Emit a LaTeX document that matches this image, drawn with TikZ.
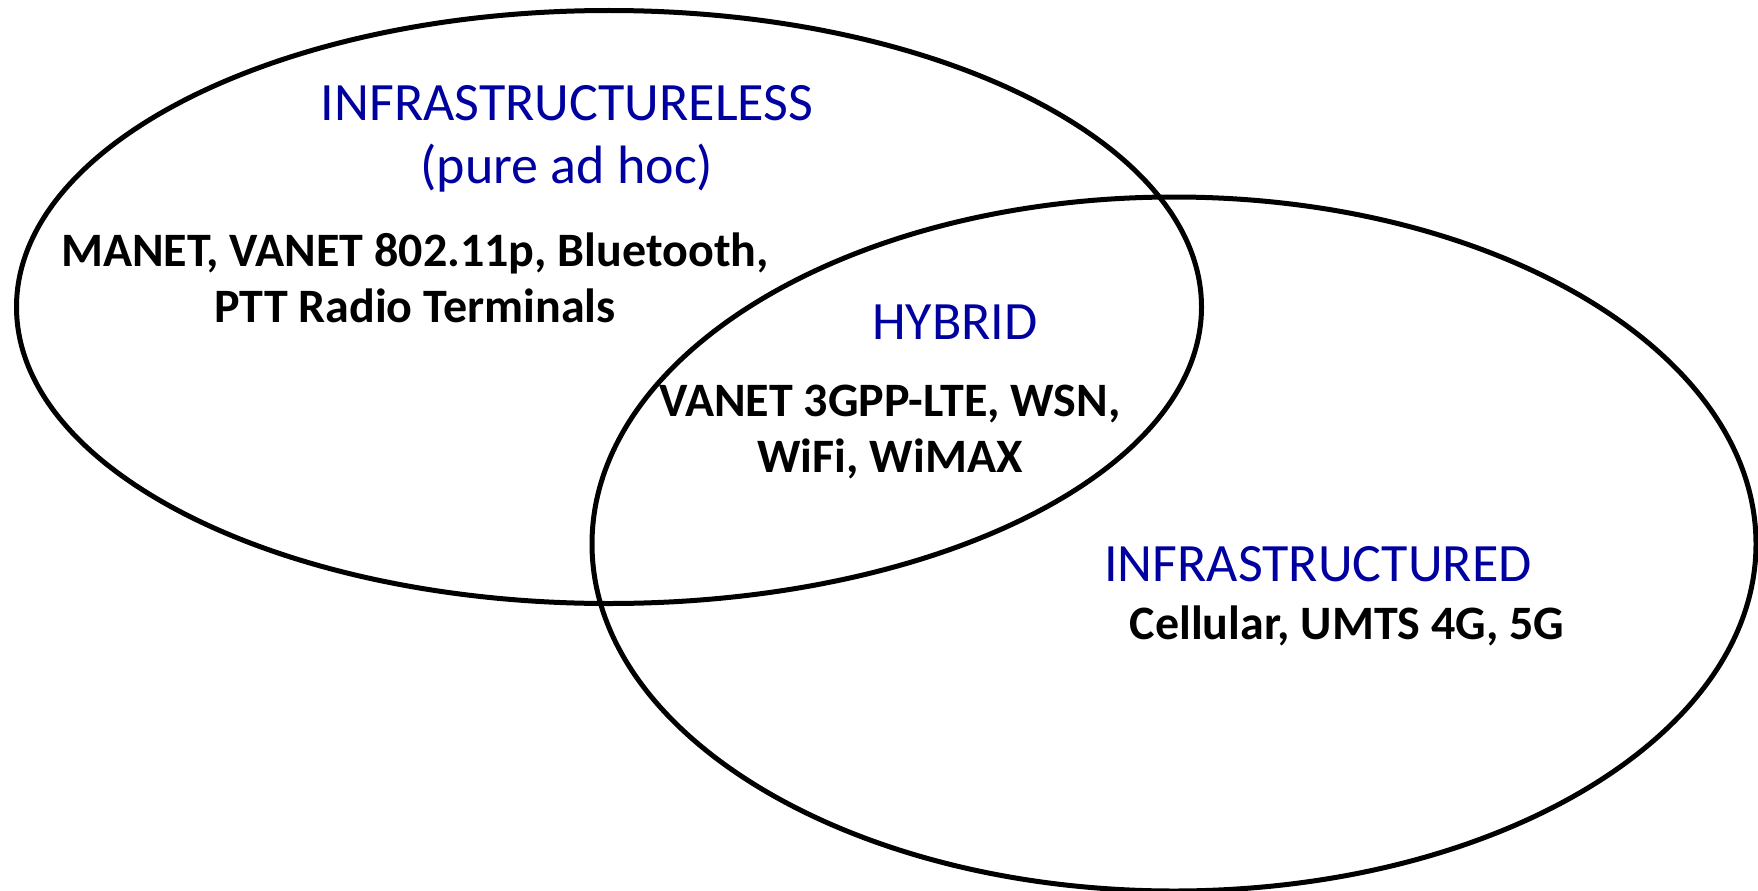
\documentclass[tikz,border=0pt]{standalone}
\usepackage{fontspec}
\setmainfont{Carlito}
\usetikzlibrary{shapes.geometric, positioning}
\definecolor{headblue}{RGB}{0,0,160}
\tikzset{netset/.style={ellipse, draw=black, line width=5pt, inner sep=0pt, outer sep=0pt}}
\tikzset{head/.style={text=headblue, align=center, anchor=base, font=\fontsize{54}{63}\selectfont}}
\tikzset{members/.style={text=black, align=center, anchor=base, font=\fontsize{48}{56}\selectfont\bfseries}}

\begin{document}
\begin{tikzpicture}[x=1pt, y=-1pt]
\useasboundingbox (0,0) rectangle (1758,891);

\node (adhoc) [netset, minimum width=1185pt, minimum height=593pt] at (609,307) {};
\node (infra) [netset, minimum width=1164pt, minimum height=694pt] at (1174,544) {};

% base of a two-line node is its last line
\node (lesshead) [head] at (567,183) {INFRASTRUCTURELESS\\(pure ad hoc)};
\node (lesslist) [members] at (415,322) {MANET, VANET 802.11p, Bluetooth,\\PTT Radio Terminals};
\node (hybhead) [head] at (955,339) {HYBRID};
\node (hyblist) [members] at (890,472) {VANET 3GPP-LTE, WSN,\\WiFi, WiMAX};
\node (infhead) [head] at (1318,581) {INFRASTRUCTURED};
\node (inflist) [members] at (1347,639) {Cellular, UMTS 4G, 5G};

\end{tikzpicture}
\end{document}
